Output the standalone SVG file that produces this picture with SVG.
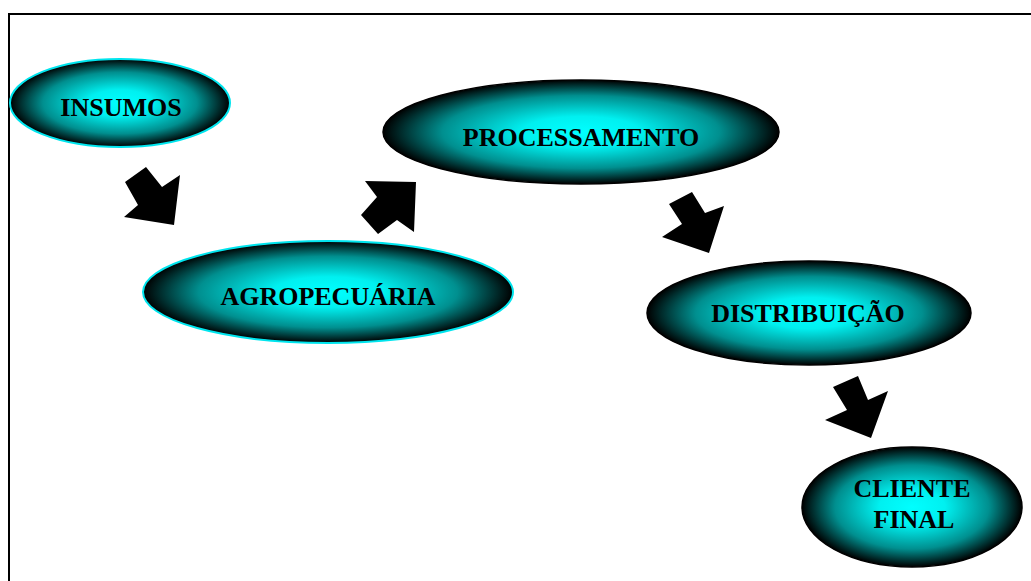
<svg xmlns="http://www.w3.org/2000/svg" width="1031" height="581" viewBox="0 0 1031 581">
<style>
.lbl{font-family:"Liberation Serif","Times New Roman",serif;font-weight:bold;font-size:26px;fill:#000;text-anchor:middle}
.nc{fill:url(#rg);stroke:#00e5ee;stroke-width:2}
.nb{fill:url(#rg);stroke:#000;stroke-width:1.5}
.arr{fill:#000;stroke:none}
</style>
<defs>
<radialGradient id="rg" cx="50%" cy="50%" r="50%">
<stop offset="0" stop-color="#00ffff"/>
<stop offset="0.3" stop-color="#00f0f0"/>
<stop offset="0.7" stop-color="#008f8f"/>
<stop offset="1" stop-color="#000000"/>
</radialGradient>
</defs>
<rect x="0" y="0" width="1031" height="581" fill="#fff"/>
<rect x="9" y="14" width="1040" height="620" fill="none" stroke="#000" stroke-width="2"/>
<g id="connectors">
<polygon class="arr" points="125,182 146,167 162,187 180,175 174,225 124,217 138,205"/>
<polygon class="arr" points="361,215 377,197 365,181 416,182 414,232 397,220 378,234"/>
<polygon class="arr" points="669,204 692,192 705,213 724,206 709,253 662,237 682,224"/>
<polygon class="arr" points="833,387 858,376 868,400 888,391 871,438 825,420 847,410"/>
</g>
<g id="insumos">
<ellipse class="nc" cx="120" cy="103" rx="110" ry="44"/>
<text class="lbl" x="121" y="116">INSUMOS</text>
</g>
<g id="agropecuaria">
<ellipse class="nc" cx="328" cy="292" rx="185" ry="51"/>
<text class="lbl" x="328" y="305">AGROPECUÁRIA</text>
</g>
<g id="processamento">
<ellipse class="nb" cx="581" cy="132" rx="198" ry="52"/>
<text class="lbl" x="581" y="146">PROCESSAMENTO</text>
</g>
<g id="distribuicao">
<ellipse class="nb" cx="809" cy="313" rx="162" ry="52"/>
<text class="lbl" x="808" y="322">DISTRIBUIÇÃO</text>
</g>
<g id="cliente-final">
<ellipse class="nb" cx="912" cy="507" rx="110" ry="60"/>
<text class="lbl" x="912" y="497">CLIENTE</text>
<text class="lbl" x="914" y="528">FINAL</text>
</g>
</svg>
